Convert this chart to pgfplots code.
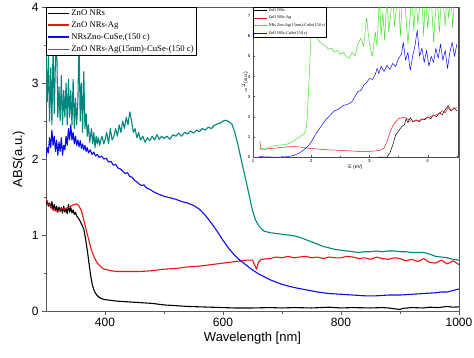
\documentclass[border=0pt]{standalone}
\usepackage{fontspec}
\setmainfont{Liberation Sans}
\newfontfamily\serifleg{Liberation Serif}
\usepackage{pgfplots}
\pgfplotsset{compat=1.18}
\definecolor{tealc}{RGB}{0,135,125}
\definecolor{bluec}{RGB}{10,10,235}
\definecolor{redc}{RGB}{235,20,20}
\definecolor{greenc}{RGB}{70,225,40}
\begin{document}
\begin{tikzpicture}
\useasboundingbox (0,0) rectangle (474pt,357pt);
\begin{axis}[
  at={(46pt,46pt)}, anchor=south west,
  scale only axis, width=413pt, height=304pt,
  xmin=300, xmax=1000, ymin=0, ymax=4,
  xtick={400,600,800,1000}, minor xtick={500,700,900},
  ytick={0,1,2,3,4}, minor ytick={0.5,1.5,2.5,3.5},
  tick pos=left, tick align=outside,
  major tick length=4pt, minor tick length=2.5pt,
  axis line style={black!65, line width=0.8pt},
  every tick/.style={black!65, line width=0.8pt},
  /pgf/number format/assume math mode=true,
  /pgf/number format/1000 sep={},
  tick label style={font=\fontsize{12}{14}\selectfont},
  xlabel={Wavelength [nm]}, ylabel={ABS(a.u.)},
  label style={font=\fontsize{13}{15}\selectfont},
  xlabel style={yshift=2pt},
  legend cell align=left,
  legend style={at={(0,1)}, anchor=north west, draw=black, line width=0.6pt,
    font=\serifleg\fontsize{8.7}{10}\selectfont, inner sep=1pt, row sep=1.6pt,
    nodes={inner sep=1.5pt}},
  legend image code/.code={\draw[#1, line width=1.6pt] (0pt,0pt) -- (21pt,0pt);},
  line join=round,
]
\addplot[black, line width=1.1pt] coordinates {
(300,1.40)(302,1.45)(304,1.38)(306,1.42)(308,1.36)(310,1.44)(312,1.33)(314,1.40)(316,1.32)(318,1.38)(320,1.30)(322,1.37)(324,1.31)(326,1.36)(328,1.29)(330,1.38)(332,1.30)(334,1.35)(336,1.28)(338,1.40)(340,1.30)(342,1.36)(344,1.29)(346,1.33)(348,1.27)(350,1.30)(352,1.25)(355,1.22)(358,1.18)(361,1.13)(364,1.08)(367,0.95)(370,0.80)(373,0.62)(376,0.45)(379,0.33)(382,0.26)(386,0.21)(390,0.18)(395,0.16)(400,0.15)(410,0.14)(420,0.13)(430,0.125)(440,0.12)(450,0.115)(460,0.11)(480,0.10)(500,0.08)(520,0.07)(540,0.06)(560,0.055)(580,0.05)(600,0.045)(620,0.04)(650,0.04)(680,0.045)(700,0.04)(720,0.045)(750,0.04)(780,0.05)(800,0.04)(820,0.045)(850,0.04)(870,0.045)(880,0.04)(890,0.03)(900,0.02)(905,0.035)(920,0.045)(940,0.04)(950,0.05)(965,0.045)(980,0.06)(990,0.05)(1000,0.055)};
\addlegendentry{ZnO NRs}
\addplot[redc, line width=1.1pt] coordinates {
(300,1.48)(303,1.42)(306,1.40)(309,1.36)(312,1.33)(316,1.32)(320,1.31)(324,1.33)(328,1.35)(332,1.34)(336,1.36)(340,1.37)(344,1.39)(348,1.40)(352,1.41)(356,1.38)(360,1.32)(364,1.20)(368,1.07)(372,0.95)(376,0.83)(380,0.74)(384,0.67)(388,0.62)(392,0.59)(396,0.56)(400,0.55)(410,0.53)(420,0.52)(440,0.52)(460,0.52)(480,0.53)(500,0.55)(520,0.56)(540,0.58)(560,0.59)(580,0.61)(600,0.63)(620,0.65)(640,0.67)(650,0.67)(654,0.60)(657,0.55)(660,0.64)(665,0.68)(680,0.69)(690,0.71)(700,0.70)(710,0.72)(720,0.70)(730,0.71)(740,0.72)(750,0.70)(760,0.71)(770,0.69)(780,0.71)(790,0.70)(800,0.70)(810,0.72)(820,0.71)(830,0.69)(840,0.70)(850,0.68)(860,0.71)(870,0.69)(880,0.68)(890,0.70)(900,0.69)(910,0.66)(920,0.68)(930,0.65)(940,0.69)(950,0.64)(960,0.63)(970,0.67)(980,0.62)(990,0.66)(1000,0.61)};
\addlegendentry{ZnO NRs-Ag}
\addplot[bluec, line width=1.1pt] coordinates {
(300,2.03)(302,2.15)(304,2.08)(306,2.28)(308,2.15)(310,2.38)(312,2.18)(314,2.30)(316,2.10)(318,2.25)(320,2.05)(322,2.22)(324,2.10)(326,2.28)(328,2.05)(330,2.18)(332,2.12)(334,2.30)(336,2.18)(338,2.40)(340,2.25)(342,2.45)(344,2.25)(346,2.35)(348,2.20)(350,2.30)(352,2.18)(354,2.25)(356,2.16)(358,2.24)(360,2.14)(362,2.20)(364,2.12)(366,2.18)(368,2.10)(370,2.15)(372,2.08)(375,2.12)(378,2.06)(381,2.09)(384,2.04)(387,2.06)(390,2.02)(394,2.04)(398,2.00)(402,2.01)(406,1.96)(410,1.97)(414,1.92)(418,1.93)(422,1.88)(426,1.87)(430,1.84)(434,1.81)(438,1.82)(442,1.77)(446,1.76)(450,1.72)(454,1.70)(458,1.67)(462,1.65)(466,1.66)(470,1.62)(476,1.60)(482,1.57)(490,1.54)(500,1.51)(510,1.49)(520,1.47)(530,1.44)(540,1.42)(550,1.39)(560,1.34)(570,1.26)(580,1.16)(590,1.05)(600,0.93)(610,0.82)(620,0.73)(630,0.66)(640,0.60)(650,0.54)(660,0.49)(670,0.45)(680,0.41)(690,0.38)(700,0.35)(720,0.31)(740,0.28)(760,0.25)(780,0.23)(800,0.22)(820,0.21)(840,0.20)(860,0.20)(880,0.21)(900,0.21)(920,0.22)(940,0.23)(960,0.24)(970,0.25)(980,0.25)(990,0.27)(1000,0.29)};
\addlegendentry{NRsZno-CuSe,(150 c)}
\addplot[tealc, line width=1.1pt] coordinates {
(300,3.40)(302,2.75)(304,3.35)(306,2.50)(308,3.20)(310,2.45)(312,3.50)(314,2.60)(316,3.30)(318,3.60)(320,2.55)(322,2.95)(324,2.50)(326,3.10)(328,2.45)(330,2.90)(332,2.55)(334,3.00)(336,2.45)(338,3.05)(340,2.55)(342,2.90)(344,2.45)(346,3.05)(348,2.40)(350,2.80)(352,2.45)(354,2.75)(356,3.60)(358,2.50)(360,3.00)(362,2.35)(364,3.15)(366,2.40)(368,2.60)(370,2.30)(372,2.45)(374,2.22)(377,2.40)(379,2.20)(381,2.35)(383,2.15)(385,2.30)(387,2.20)(389,2.28)(391,2.18)(393,2.25)(395,2.30)(398,2.20)(400,2.25)(403,2.35)(406,2.20)(409,2.40)(412,2.25)(415,2.30)(418,2.40)(421,2.30)(424,2.45)(427,2.35)(430,2.50)(433,2.40)(436,2.55)(439,2.45)(442,2.62)(445,2.50)(448,2.35)(451,2.40)(454,2.28)(457,2.35)(460,2.25)(464,2.30)(468,2.22)(472,2.28)(476,2.24)(480,2.30)(484,2.25)(488,2.32)(492,2.26)(496,2.30)(500,2.27)(505,2.30)(510,2.26)(515,2.32)(520,2.30)(525,2.34)(530,2.30)(535,2.35)(540,2.33)(545,2.37)(550,2.34)(555,2.38)(560,2.36)(565,2.40)(570,2.38)(575,2.42)(580,2.40)(585,2.44)(590,2.46)(595,2.47)(600,2.50)(605,2.51)(610,2.49)(615,2.46)(620,2.35)(625,2.20)(630,2.02)(635,1.85)(640,1.68)(645,1.50)(650,1.32)(655,1.20)(660,1.13)(665,1.08)(670,1.05)(680,1.03)(690,1.02)(700,1.01)(710,1.00)(720,0.99)(730,0.97)(740,0.94)(750,0.91)(760,0.88)(770,0.85)(780,0.83)(790,0.81)(800,0.80)(810,0.79)(820,0.78)(830,0.77)(840,0.78)(850,0.78)(860,0.79)(870,0.78)(880,0.79)(890,0.79)(900,0.78)(910,0.78)(920,0.77)(930,0.77)(940,0.77)(950,0.75)(960,0.72)(970,0.71)(980,0.70)(990,0.68)(1000,0.67)};
\addlegendentry{ZnO NRs-Ag(15nm)-CuSe-(150 c)}
\end{axis}
\begin{axis}[
  at={(253pt,200pt)}, anchor=south west,
  scale only axis, width=205pt, height=150pt,
  xmin=1, xmax=4.52, ymin=0, ymax=7.45,
  xtick={1,2,3,4}, ytick={0,1,2,3,4,5,6,7},
  minor xtick={1.5,2.5,3.5,4.5},
  tick align=inside, tick pos=left,
  major tick length=2pt, minor tick length=1pt,
  axis background/.style={fill=white},
  axis line style={black!70, line width=0.6pt},
  every tick/.style={black!70, line width=0.4pt},
  /pgf/number format/assume math mode=true,
  tick label style={font=\fontsize{4.5}{5}\selectfont},
  xticklabel style={yshift=1pt}, yticklabel style={xshift=1pt},
  xlabel={E (eV)}, ylabel={$\alpha^2$(a.u.)},
  label style={font=\fontsize{5}{6}\selectfont},
  xlabel style={yshift=5pt}, ylabel style={yshift=-7pt},
  legend cell align=left,
  legend style={at={(0,1)}, anchor=north west, draw=black, line width=0.4pt,
    font=\serifleg\fontsize{4.2}{5}\selectfont, inner sep=0.5pt, row sep=1.2pt,
    nodes={inner sep=1pt}},
  legend image code/.code={\draw[#1, line width=0.8pt] (0pt,0pt) -- (13pt,0pt);},
  line join=round,
]
\addplot[black, line width=0.5pt] coordinates {
(3.15,0)(3.30,0.0)(3.35,0.2)(3.40,0.6)(3.45,1.1)(3.50,1.3)(3.55,1.5)(3.60,1.6)(3.63,1.9)(3.66,1.7)(3.70,1.95)(3.75,1.75)(3.80,1.85)(3.85,1.75)(3.90,1.9)(3.95,1.85)(4.00,2.0)(4.05,1.9)(4.10,2.1)(4.15,2.0)(4.20,2.2)(4.25,2.1)(4.30,2.35)(4.35,2.55)(4.40,2.3)(4.45,2.45)(4.50,2.3)};
\addlegendentry{ZnO NRs}
\addplot[redc, line width=0.5pt] coordinates {
(1.12,0.8)(1.13,0.4)(1.2,0.38)(1.3,0.42)(1.4,0.45)(1.5,0.48)(1.6,0.5)(1.7,0.52)(1.8,0.5)(1.9,0.45)(2.0,0.42)(2.1,0.4)(2.2,0.37)(2.3,0.35)(2.4,0.34)(2.5,0.33)(2.6,0.31)(2.7,0.3)(2.8,0.28)(2.9,0.27)(3.0,0.28)(3.1,0.3)(3.2,0.35)(3.25,0.45)(3.3,0.75)(3.35,1.2)(3.4,1.55)(3.45,1.75)(3.5,1.9)(3.55,1.95)(3.6,1.98)(3.65,1.9)(3.7,1.8)(3.75,1.75)(3.8,1.8)(3.9,1.85)(4.0,1.95)(4.1,2.05)(4.2,2.15)(4.25,2.3)(4.3,2.2)(4.35,2.45)(4.4,2.3)(4.45,2.4)(4.5,2.45)};
\addlegendentry{ZnO NRs-Ag}
\addplot[greenc, line width=0.5pt] coordinates {
(1.12,0.35)(1.15,0.45)(1.2,0.38)(1.3,0.5)(1.4,0.58)(1.5,0.6)(1.6,0.65)(1.7,0.8)(1.8,1.0)(1.88,1.15)(1.92,1.5)(1.95,3.0)(1.98,5.0)(2.0,6.2)(2.03,7.0)(2.06,6.3)(2.1,5.9)(2.15,5.7)(2.2,5.6)(2.25,5.5)(2.3,5.35)(2.35,5.4)(2.4,5.2)(2.45,5.3)(2.5,5.1)(2.55,5.2)(2.6,5.0)(2.65,4.9)(2.7,5.2)(2.75,5.0)(2.8,5.6)(2.85,5.9)(2.9,5.5)(2.95,6.9)(3.0,5.6)(3.05,5.0)(3.1,6.2)(3.13,5.5)(3.17,8)(3.2,6.0)(3.23,7.2)(3.26,5.8)(3.3,8)(3.33,6.2)(3.36,7.0)(3.4,8)(3.43,6.5)(3.46,7.3)(3.5,8)(3.53,6.0)(3.56,7.6)(3.6,8)(3.63,6.8)(3.66,5.6)(3.7,7.1)(3.73,8)(3.76,6.3)(3.8,8)(3.83,6.6)(3.86,7.4)(3.9,8)(3.93,6.0)(3.96,8)(4.0,6.4)(4.03,7.5)(4.06,8)(4.1,5.7)(4.13,7.0)(4.16,8)(4.2,6.2)(4.23,7.6)(4.26,8)(4.3,6.5)(4.33,8)(4.36,6.9)(4.4,8)(4.43,6.4)(4.46,8)(4.5,8)};
\addlegendentry{NRs Zno-Ag(15nm)-CuSe(150 c)}
\addplot[bluec, line width=0.5pt] coordinates {
(1.1,0.02)(1.3,0.0)(1.5,0.0)(1.6,0.02)(1.7,0.08)(1.8,0.2)(1.87,0.35)(1.95,0.55)(2.0,0.75)(2.05,1.0)(2.1,1.25)(2.15,1.45)(2.2,1.65)(2.25,1.85)(2.3,2.0)(2.35,2.15)(2.4,2.3)(2.45,2.35)(2.5,2.45)(2.55,2.55)(2.6,2.6)(2.65,2.65)(2.7,2.75)(2.75,3.0)(2.8,3.25)(2.85,3.3)(2.9,3.55)(2.95,3.7)(3.0,3.9)(3.05,3.85)(3.1,4.1)(3.13,4.4)(3.16,4.15)(3.2,4.5)(3.25,4.25)(3.3,4.55)(3.35,4.35)(3.4,4.65)(3.45,4.5)(3.5,4.9)(3.55,5.1)(3.58,5.7)(3.62,4.8)(3.66,5.2)(3.7,4.3)(3.74,5.0)(3.78,5.5)(3.82,6.3)(3.86,5.0)(3.9,5.4)(3.94,4.7)(3.98,5.3)(4.02,4.5)(4.06,5.0)(4.1,4.7)(4.14,5.4)(4.18,4.9)(4.22,5.6)(4.26,4.8)(4.3,5.3)(4.34,4.4)(4.38,5.2)(4.42,5.7)(4.46,5.0)(4.5,5.6)};
\addlegendentry{ZnO NRs-CuSe(150 c)}
\end{axis}
\end{tikzpicture}
\end{document}
